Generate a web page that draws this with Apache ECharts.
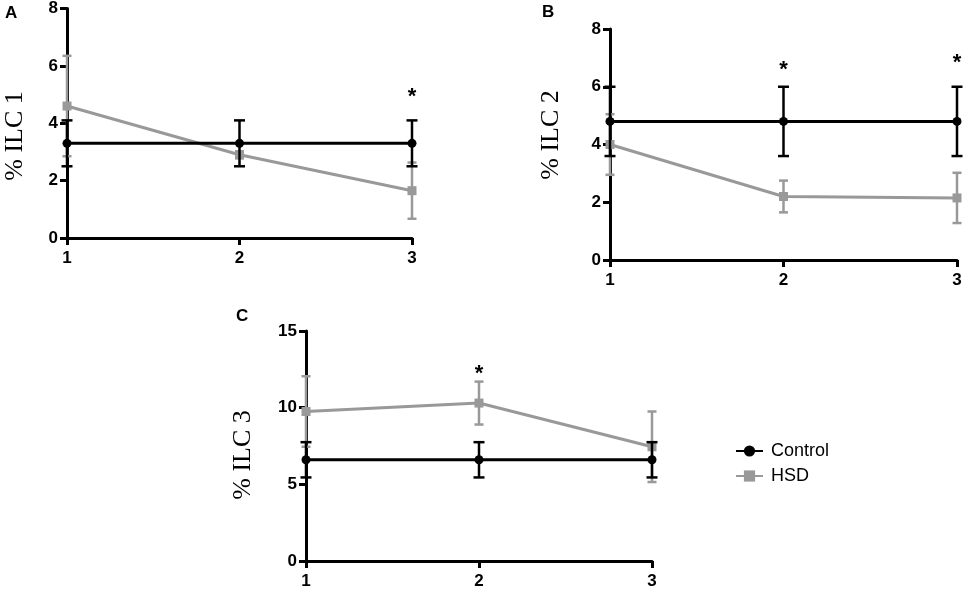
<!DOCTYPE html>
<html>
<head>
<meta charset="utf-8">
<script src="https://cdn.jsdelivr.net/npm/echarts@6/dist/echarts.min.js"></script>
<style>html,body{margin:0;padding:0;background:#fff}#c{width:965px;height:590px}</style>
</head>
<body>
<div id="c"></div>
<script>
// ---- data ----
const timePoints = [1, 2, 3];
const ilc1Control = [3.3, 3.3, 3.3];
const ilc1ControlErr = [0.8, 0.8, 0.8];
const ilc1HSD = [4.6, 2.9, 1.65];
const ilc1HSDErr = [1.75, 0.12, 0.98];
const ilc2Control = [4.8, 4.8, 4.8];
const ilc2ControlErr = [1.2, 1.2, 1.2];
const ilc2HSD = [4.0, 2.2, 2.15];
const ilc2HSDErr = [1.05, 0.55, 0.87];
const ilc3Control = [6.6, 6.6, 6.6];
const ilc3ControlErr = [1.15, 1.15, 1.15];
const ilc3HSD = [9.75, 10.3, 7.45];
const ilc3HSDErr = [2.3, 1.4, 2.3];
const sig1 = [[3, 5.1]];
const sig2 = [[2, 6.75], [3, 7.0]];
const sig3 = [[2, 12.5]];
const yMax = [8, 8, 15];
const yInterval = [2, 2, 5];
const yNames = ['% ILC 1', '% ILC 2', '% ILC 3'];

const BLACK = '#000000';
const GRAY = '#999999';

const chart = echarts.init(document.getElementById('c'));

const grids = [
  {left: 67, top: 8, width: 345, height: 230},
  {left: 610, top: 29, width: 347, height: 231},
  {left: 306, top: 331, width: 346, height: 230}
];

function xAxisFor(i) {
  return {
    type: 'value', gridIndex: i, min: 1, max: 3, interval: 1,
    axisLine: {show: true, lineStyle: {color: BLACK, width: 3}},
    axisTick: {show: true, length: 7, lineStyle: {color: BLACK, width: 3}},
    axisLabel: {color: BLACK, fontFamily: 'Liberation Sans, Arial', fontWeight: 'bold', fontSize: 17, margin: 12},
    splitLine: {show: false}
  };
}
function yAxisFor(i) {
  return {
    type: 'value', gridIndex: i, min: 0, max: yMax[i], interval: yInterval[i],
    axisLine: {show: true, lineStyle: {color: BLACK, width: 3}},
    axisTick: {show: true, length: 7, lineStyle: {color: BLACK, width: 3}},
    axisLabel: {color: BLACK, fontFamily: 'Liberation Sans, Arial', fontWeight: 'bold', fontSize: 17, margin: 9},
    splitLine: {show: false}
  };
}

function pairs(vals) { return timePoints.map((x, k) => [x, vals[k]]); }

function errSeries(i, vals, errs, color, capHalf, z) {
  return {
    type: 'custom', xAxisIndex: i, yAxisIndex: i, z: z, clip: false, silent: true,
    data: timePoints.map((x, k) => [x, vals[k] - errs[k], vals[k] + errs[k]]),
    renderItem: function (params, api) {
      const lo = api.coord([api.value(0), api.value(1)]);
      const hi = api.coord([api.value(0), api.value(2)]);
      const st = {stroke: color, lineWidth: 2.5};
      return {
        type: 'group',
        children: [
          {type: 'line', shape: {x1: lo[0], y1: lo[1], x2: hi[0], y2: hi[1]}, style: st},
          {type: 'line', shape: {x1: lo[0] - capHalf, y1: lo[1], x2: lo[0] + capHalf, y2: lo[1]}, style: st},
          {type: 'line', shape: {x1: hi[0] - capHalf, y1: hi[1], x2: hi[0] + capHalf, y2: hi[1]}, style: st}
        ]
      };
    }
  };
}

function lineSeries(i, name, vals, color, symbol, size, z) {
  return {
    type: 'line', name: name, xAxisIndex: i, yAxisIndex: i, z: z,
    data: pairs(vals), symbol: symbol, symbolSize: size, showSymbol: true,
    lineStyle: {color: color, width: 3}, itemStyle: {color: color},
    clip: false, animation: false
  };
}

function sigSeries(i, pts) {
  return {
    type: 'custom', xAxisIndex: i, yAxisIndex: i, z: 10, clip: false, silent: true,
    data: pts,
    renderItem: function (params, api) {
      const p = api.coord([api.value(0), api.value(1)]);
      return {
        type: 'text', x: p[0], y: p[1] + 5,
        style: {text: '*', fill: BLACK, font: 'bold 22px "Liberation Sans", Arial', align: 'center', verticalAlign: 'middle'}
      };
    }
  };
}

const series = [];
const groups = [
  [ilc1Control, ilc1ControlErr, ilc1HSD, ilc1HSDErr, sig1],
  [ilc2Control, ilc2ControlErr, ilc2HSD, ilc2HSDErr, sig2],
  [ilc3Control, ilc3ControlErr, ilc3HSD, ilc3HSDErr, sig3]
];
groups.forEach((g, i) => {
  series.push(errSeries(i, g[2], g[3], GRAY, 4.5, 3));
  series.push(lineSeries(i, 'HSD', g[2], GRAY, 'rect', 9, 4));
  series.push(errSeries(i, g[0], g[1], BLACK, 5.5, 5));
  series.push(lineSeries(i, 'Control', g[0], BLACK, 'circle', 9, 6));
  series.push(sigSeries(i, g[4]));
});

const nameFont = '26px "Liberation Serif", "Times New Roman", serif';
const letterFont = 'bold 17px "Liberation Sans", Arial';

chart.setOption({
  animation: false,
  backgroundColor: '#ffffff',
  grid: grids,
  xAxis: [0, 1, 2].map(xAxisFor),
  yAxis: [0, 1, 2].map(yAxisFor),
  legend: {
    data: ['Control', 'HSD'],
    orient: 'vertical', left: 730, top: 437,
    itemWidth: 27, itemHeight: 14, itemGap: 7,
    textStyle: {color: BLACK, fontFamily: 'Liberation Sans, Arial', fontSize: 18, padding: [0, 0, 0, 3]},
    selectedMode: false
  },
  graphic: [
    {type: 'text', x: 15, y: 136, rotation: Math.PI / 2, style: {text: yNames[0], font: nameFont, fill: BLACK, align: 'center', verticalAlign: 'middle'}},
    {type: 'text', x: 551, y: 135, rotation: Math.PI / 2, style: {text: yNames[1], font: nameFont, fill: BLACK, align: 'center', verticalAlign: 'middle'}},
    {type: 'text', x: 243, y: 455, rotation: Math.PI / 2, style: {text: yNames[2], font: nameFont, fill: BLACK, align: 'center', verticalAlign: 'middle'}},
    {type: 'text', x: 5, y: 13, style: {text: 'A', font: letterFont, fill: BLACK, align: 'left', verticalAlign: 'middle'}},
    {type: 'text', x: 542, y: 12, style: {text: 'B', font: letterFont, fill: BLACK, align: 'left', verticalAlign: 'middle'}},
    {type: 'text', x: 236, y: 316, style: {text: 'C', font: letterFont, fill: BLACK, align: 'left', verticalAlign: 'middle'}}
  ],
  series: series
});
</script>
</body>
</html>
